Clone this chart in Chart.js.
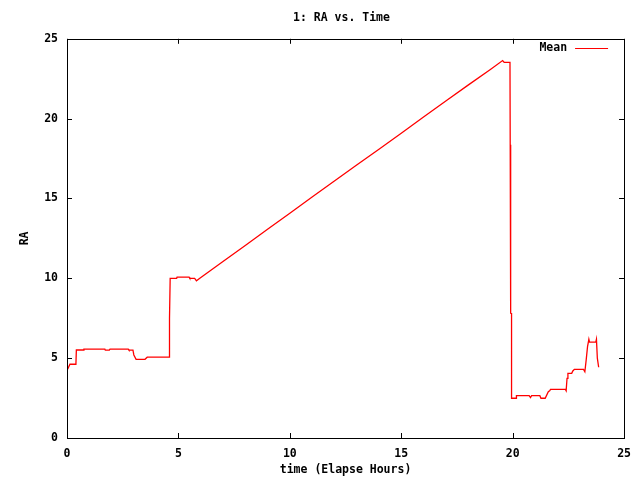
<!DOCTYPE html>
<html>
<head>
<meta charset="utf-8">
<script src="https://cdn.jsdelivr.net/npm/chart.js@4"></script>
<style>
    html, body { margin: 0; padding: 0; background: #fff; }
    #chart { display: block; }
</style>
</head>
<body>
<canvas id="chart" width="640" height="480"></canvas>
<script>
// values
const timeHours = [
    0, 0.05, 0.13, 0.40, 0.42, 0.73, 0.76, 1.70, 1.72, 1.90,
    1.93, 2.75, 2.78, 2.96, 3.00, 3.10, 3.50, 3.60, 4.58, 4.60,
    4.63, 4.92, 4.94, 5.48, 5.51, 5.73, 5.81, 5.96, 7, 8,
    9, 10, 11, 12, 13, 14, 15, 16, 17, 18,
    19, 19.55, 19.62, 19.88, 19.89, 19.91, 19.91, 19.95, 19.95, 20.15,
    20.17, 20.74, 20.80, 20.85, 21.22, 21.27, 21.46, 21.60, 21.66, 21.70,
    22.36, 22.40, 22.44, 22.48, 22.65, 22.70, 22.77, 23.18, 23.24, 23.30,
    23.36, 23.42, 23.45, 23.73, 23.76, 23.80, 23.86
];
const raMean = [
    4.47, 4.37, 4.62, 4.62, 5.51, 5.51, 5.56, 5.56, 5.50, 5.50,
    5.56, 5.56, 5.50, 5.50, 5.20, 4.93, 4.93, 5.06, 5.06, 7.50,
    10.00, 10.00, 10.07, 10.07, 10.00, 10.00, 9.84, 10.00, 11.05, 12.05,
    13.07, 14.08, 15.09, 16.10, 17.10, 18.08, 19.08, 20.10, 21.10, 22.10,
    23.08, 23.64, 23.52, 23.52, 18.36, 18.30, 7.81, 7.80, 2.49, 2.49,
    2.65, 2.65, 2.53, 2.65, 2.65, 2.49, 2.49, 2.90, 2.96, 3.05,
    3.05, 2.95, 3.74, 4.05, 4.05, 4.20, 4.30, 4.30, 4.15, 4.89,
    5.72, 6.18, 6.00, 6.00, 6.18, 5.00, 4.43
];
const xTickValues = [0, 5, 10, 15, 20, 25];
const yTickValues = [0, 5, 10, 15, 20, 25];

const monoFont = { family: '"DejaVu Sans Mono", "Liberation Mono", monospace', size: 11.5, weight: 'bold', lineHeight: 1.2 };

// gnuplot style: closed frame, ticks pointing inwards on all four sides, key inside top right
const framePlugin = {
    id: 'frame',
    afterLayout(chart) {
        // gnuplot centres the title a bit right of the canvas middle
        chart.titleBlock.left = 58;
    },
    afterDatasetsDraw(chart) {
        const { ctx, chartArea: a, scales } = chart;
        const tick = 5;
        ctx.save();
        ctx.strokeStyle = '#000';
        ctx.lineWidth = 1;
        ctx.beginPath();
        xTickValues.forEach(v => {
            const px = Math.round(scales.x.getPixelForValue(v)) + 0.5;
            ctx.moveTo(px, a.bottom); ctx.lineTo(px, a.bottom - tick);
            ctx.moveTo(px, a.top); ctx.lineTo(px, a.top + tick);
        });
        yTickValues.forEach(v => {
            const py = Math.round(scales.y.getPixelForValue(v)) + 0.5;
            ctx.moveTo(a.left, py); ctx.lineTo(a.left + tick, py);
            ctx.moveTo(a.right, py); ctx.lineTo(a.right - tick, py);
        });
        ctx.stroke();
        ctx.strokeRect(Math.round(a.left) + 0.5, Math.round(a.top) + 0.5,
            Math.round(a.right - a.left), Math.round(a.bottom - a.top));

        // key
        const ds = chart.data.datasets[0];
        const ky = Math.round(a.top + 9) + 0.5;
        ctx.fillStyle = '#000';
        ctx.font = 'bold 11.5px ' + monoFont.family;
        ctx.textAlign = 'right';
        ctx.textBaseline = 'middle';
        ctx.fillText(ds.label, a.right - 57, ky);
        ctx.strokeStyle = ds.borderColor;
        ctx.beginPath();
        ctx.moveTo(a.right - 49, ky);
        ctx.lineTo(a.right - 16, ky);
        ctx.stroke();
        ctx.restore();
    }
};

new Chart(document.getElementById('chart'), {
    type: 'line',
    data: {
        datasets: [{
            label: 'Mean',
            data: timeHours.map((t, i) => ({ x: t, y: raMean[i] })),
            borderColor: '#ff0000',
            borderWidth: 1.3,
            pointRadius: 0,
            tension: 0,
            fill: false
        }]
    },
    options: {
        responsive: false,
        animation: false,
        events: [],
        layout: { padding: { left: 0, right: 15, top: 0, bottom: 0 } },
        plugins: {
            legend: { display: false },
            tooltip: { enabled: false },
            title: {
                display: true,
                text: '1: RA vs. Time',
                color: '#000',
                font: monoFont,
                padding: { top: 11, bottom: 14 }
            }
        },
        scales: {
            x: {
                type: 'linear',
                min: 0,
                max: 25,
                afterBuildTicks: s => { s.ticks = xTickValues.map(v => ({ value: v })); },
                afterFit: s => { s.height = 42; },
                grid: { display: false, drawTicks: false },
                border: { display: false },
                ticks: { color: '#000', font: monoFont, padding: 9, maxRotation: 0 },
                title: {
                    display: true,
                    text: 'time (Elapse Hours)',
                    color: '#000',
                    font: monoFont,
                    padding: { top: 0, bottom: 3 }
                }
            },
            y: {
                type: 'linear',
                min: 0,
                max: 25,
                afterBuildTicks: s => { s.ticks = yTickValues.map(v => ({ value: v })); },
                afterFit: s => { s.width = 67; },
                grid: { display: false, drawTicks: false },
                border: { display: false },
                ticks: { color: '#000', font: monoFont, padding: 9 },
                title: {
                    display: true,
                    text: 'RA',
                    color: '#000',
                    font: monoFont,
                    padding: { top: 18, bottom: 0 }
                }
            }
        }
    },
    plugins: [framePlugin]
});
</script>
</body>
</html>
